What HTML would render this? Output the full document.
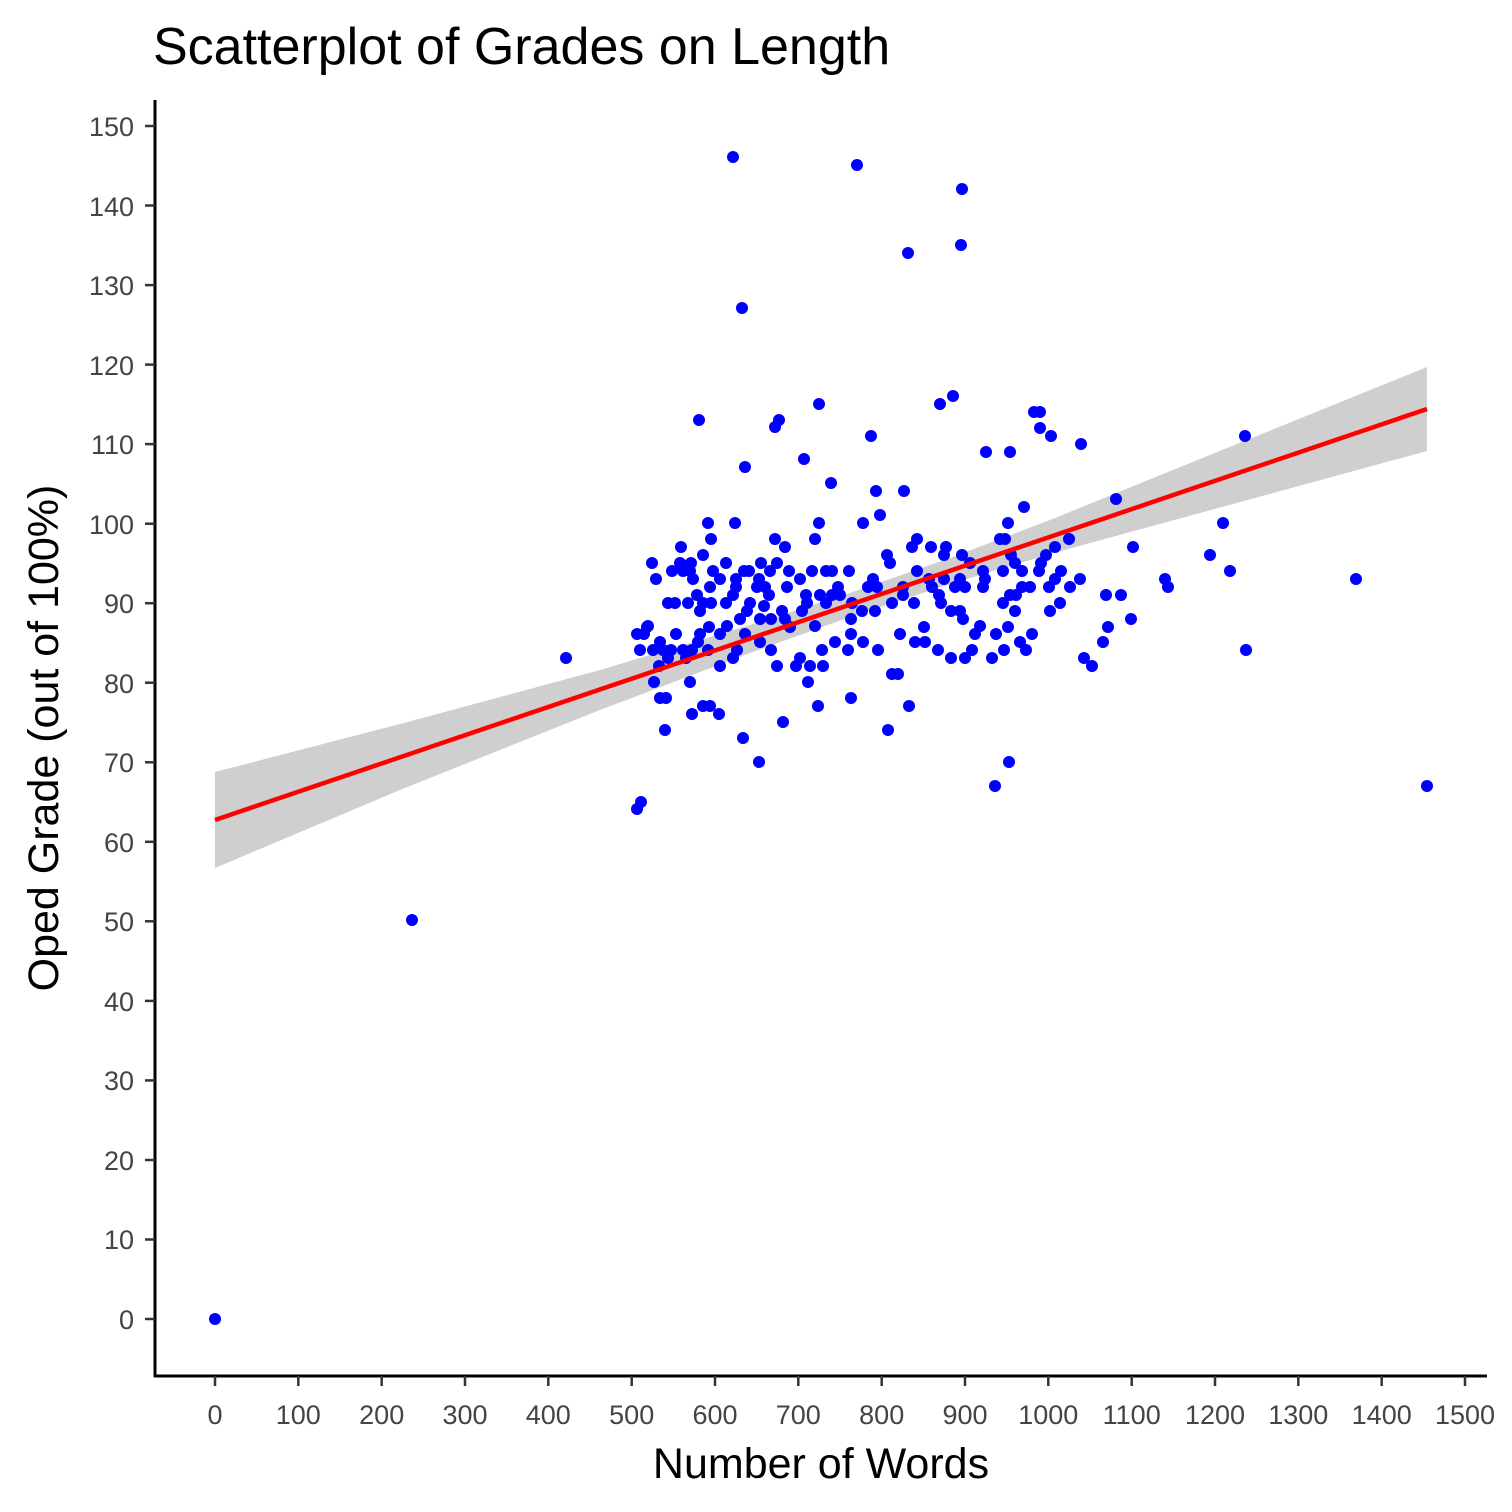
<!DOCTYPE html>
<html><head><meta charset="utf-8"><style>
html,body{margin:0;padding:0;background:#fff;}
svg{display:block;font-family:"Liberation Sans",sans-serif;}
</style></head><body>
<svg width="1512" height="1512" viewBox="0 0 1512 1512" xmlns="http://www.w3.org/2000/svg">
<rect width="1512" height="1512" fill="#fff"/>
<text x="153" y="64" font-size="52" fill="#000">Scatterplot of Grades on Length</text>
<polygon fill="#cfcfcf" points="215,772 400,724 600,670 750,625 850,593 950,558 1050,520 1200,459 1427,367 1427,451 1200,513 1050,554 950,584 850,617 750,653 600,710 400,790 215,868"/>
<g fill="#0000ff" stroke="none">
<circle cx="215" cy="1319" r="6"/><circle cx="412" cy="920" r="6"/><circle cx="566" cy="658" r="6"/><circle cx="637" cy="809" r="6"/><circle cx="641" cy="802" r="6"/><circle cx="733" cy="157" r="6"/><circle cx="857" cy="165" r="6"/><circle cx="962" cy="189" r="6"/><circle cx="961" cy="245" r="6"/><circle cx="908" cy="253" r="6"/><circle cx="742" cy="308" r="6"/><circle cx="699" cy="420" r="6"/><circle cx="779" cy="420" r="6"/><circle cx="775" cy="427" r="6"/><circle cx="745" cy="467" r="6"/><circle cx="819" cy="404" r="6"/><circle cx="940" cy="404" r="6"/><circle cx="953" cy="396" r="6"/><circle cx="871" cy="436" r="6"/><circle cx="804" cy="459" r="6"/><circle cx="831" cy="483" r="6"/><circle cx="876" cy="491" r="6"/><circle cx="904" cy="491" r="6"/><circle cx="1034" cy="412" r="6"/><circle cx="1040" cy="412" r="6"/><circle cx="1040" cy="428" r="6"/><circle cx="1051" cy="436" r="6"/><circle cx="1081" cy="444" r="6"/><circle cx="1010" cy="452" r="6"/><circle cx="1245" cy="436" r="6"/><circle cx="1116" cy="499" r="6"/><circle cx="1223" cy="523" r="6"/><circle cx="1133" cy="547" r="6"/><circle cx="1210" cy="555" r="6"/><circle cx="1230" cy="571" r="6"/><circle cx="1356" cy="579" r="6"/><circle cx="1165" cy="579" r="6"/><circle cx="1168" cy="587" r="6"/><circle cx="1106" cy="595" r="6"/><circle cx="1121" cy="595" r="6"/><circle cx="1131" cy="619" r="6"/><circle cx="1108" cy="627" r="6"/><circle cx="1092" cy="666" r="6"/><circle cx="1246" cy="650" r="6"/><circle cx="1427" cy="786" r="6"/><circle cx="995" cy="786" r="6"/><circle cx="1009" cy="762" r="6"/><circle cx="759" cy="762" r="6"/><circle cx="743" cy="738" r="6"/><circle cx="665" cy="730" r="6"/><circle cx="719" cy="714" r="6"/><circle cx="703" cy="706" r="6"/><circle cx="710" cy="706" r="6"/><circle cx="818" cy="706" r="6"/><circle cx="909" cy="706" r="6"/><circle cx="783" cy="722" r="6"/><circle cx="888" cy="730" r="6"/><circle cx="851" cy="698" r="6"/><circle cx="808" cy="682" r="6"/><circle cx="892" cy="674" r="6"/><circle cx="898" cy="674" r="6"/>
<circle cx="708" cy="523" r="6"/><circle cx="863" cy="523" r="6"/><circle cx="880" cy="515" r="6"/><circle cx="819" cy="523" r="6"/><circle cx="735" cy="523" r="6"/><circle cx="775" cy="539" r="6"/><circle cx="711" cy="539" r="6"/><circle cx="785" cy="547" r="6"/><circle cx="815" cy="539" r="6"/><circle cx="912" cy="547" r="6"/><circle cx="917" cy="539" r="6"/><circle cx="931" cy="547" r="6"/><circle cx="1000" cy="539" r="6"/><circle cx="1008" cy="523" r="6"/><circle cx="1005" cy="539" r="6"/><circle cx="1069" cy="539" r="6"/><circle cx="1024" cy="507" r="6"/><circle cx="986" cy="452" r="6"/><circle cx="946" cy="547" r="6"/>
<circle cx="680" cy="563" r="6"/><circle cx="703" cy="555" r="6"/><circle cx="744" cy="571" r="6"/><circle cx="777" cy="563" r="6"/><circle cx="832" cy="571" r="6"/><circle cx="887" cy="555" r="6"/><circle cx="890" cy="563" r="6"/><circle cx="944" cy="555" r="6"/><circle cx="962" cy="555" r="6"/><circle cx="970" cy="563" r="6"/><circle cx="983" cy="571" r="6"/><circle cx="1011" cy="555" r="6"/><circle cx="1015" cy="563" r="6"/><circle cx="1022" cy="571" r="6"/><circle cx="1046" cy="555" r="6"/><circle cx="1055" cy="547" r="6"/><circle cx="1061" cy="571" r="6"/><circle cx="690" cy="571" r="6"/><circle cx="693" cy="579" r="6"/><circle cx="720" cy="579" r="6"/><circle cx="736" cy="579" r="6"/><circle cx="749" cy="571" r="6"/><circle cx="759" cy="579" r="6"/><circle cx="761" cy="563" r="6"/><circle cx="770" cy="571" r="6"/><circle cx="789" cy="571" r="6"/><circle cx="800" cy="579" r="6"/><circle cx="812" cy="571" r="6"/><circle cx="826" cy="571" r="6"/><circle cx="849" cy="571" r="6"/><circle cx="873" cy="579" r="6"/><circle cx="917" cy="571" r="6"/><circle cx="929" cy="579" r="6"/><circle cx="944" cy="579" r="6"/><circle cx="960" cy="579" r="6"/><circle cx="985" cy="579" r="6"/><circle cx="1003" cy="571" r="6"/><circle cx="1039" cy="571" r="6"/><circle cx="1049" cy="587" r="6"/><circle cx="1055" cy="579" r="6"/><circle cx="1080" cy="579" r="6"/><circle cx="1070" cy="587" r="6"/><circle cx="1041" cy="563" r="6"/><circle cx="1030" cy="587" r="6"/><circle cx="1022" cy="587" r="6"/><circle cx="1010" cy="595" r="6"/><circle cx="1003" cy="603" r="6"/><circle cx="983" cy="587" r="6"/><circle cx="965" cy="587" r="6"/><circle cx="955" cy="587" r="6"/><circle cx="939" cy="595" r="6"/><circle cx="932" cy="587" r="6"/><circle cx="903" cy="587" r="6"/><circle cx="877" cy="587" r="6"/><circle cx="868" cy="587" r="6"/><circle cx="832" cy="595" r="6"/><circle cx="838" cy="587" r="6"/><circle cx="820" cy="595" r="6"/><circle cx="806" cy="595" r="6"/><circle cx="787" cy="587" r="6"/><circle cx="769" cy="595" r="6"/><circle cx="765" cy="587" r="6"/><circle cx="757" cy="587" r="6"/><circle cx="750" cy="603" r="6"/><circle cx="736" cy="587" r="6"/><circle cx="733" cy="595" r="6"/><circle cx="726" cy="603" r="6"/><circle cx="711" cy="603" r="6"/><circle cx="703" cy="603" r="6"/><circle cx="700" cy="611" r="6"/><circle cx="688" cy="603" r="6"/><circle cx="675" cy="603" r="6"/><circle cx="672" cy="571" r="6"/><circle cx="652" cy="563" r="6"/><circle cx="656" cy="579" r="6"/><circle cx="691" cy="563" r="6"/><circle cx="697" cy="595" r="6"/><circle cx="681" cy="547" r="6"/><circle cx="683" cy="571" r="6"/><circle cx="710" cy="587" r="6"/><circle cx="713" cy="571" r="6"/><circle cx="726" cy="563" r="6"/>
<circle cx="668" cy="603" r="6"/><circle cx="647" cy="627" r="6"/><circle cx="653" cy="650" r="6"/><circle cx="676" cy="634" r="6"/><circle cx="700" cy="634" r="6"/><circle cx="709" cy="627" r="6"/><circle cx="720" cy="634" r="6"/><circle cx="727" cy="626" r="6"/><circle cx="740" cy="619" r="6"/><circle cx="747" cy="611" r="6"/><circle cx="760" cy="619" r="6"/><circle cx="771" cy="619" r="6"/><circle cx="785" cy="619" r="6"/><circle cx="802" cy="611" r="6"/><circle cx="807" cy="603" r="6"/><circle cx="826" cy="603" r="6"/><circle cx="840" cy="595" r="6"/><circle cx="852" cy="603" r="6"/><circle cx="862" cy="611" r="6"/><circle cx="875" cy="611" r="6"/><circle cx="892" cy="603" r="6"/><circle cx="903" cy="595" r="6"/><circle cx="914" cy="603" r="6"/><circle cx="924" cy="627" r="6"/><circle cx="941" cy="603" r="6"/><circle cx="951" cy="611" r="6"/><circle cx="960" cy="611" r="6"/><circle cx="963" cy="619" r="6"/><circle cx="975" cy="634" r="6"/><circle cx="980" cy="626" r="6"/><circle cx="996" cy="634" r="6"/><circle cx="1008" cy="627" r="6"/><circle cx="1015" cy="611" r="6"/><circle cx="1026" cy="650" r="6"/><circle cx="1032" cy="634" r="6"/><circle cx="1050" cy="611" r="6"/><circle cx="1060" cy="603" r="6"/><circle cx="1084" cy="658" r="6"/><circle cx="1103" cy="642" r="6"/><circle cx="1020" cy="642" r="6"/><circle cx="1016" cy="595" r="6"/><circle cx="1004" cy="650" r="6"/><circle cx="992" cy="658" r="6"/><circle cx="972" cy="650" r="6"/><circle cx="965" cy="658" r="6"/><circle cx="951" cy="658" r="6"/><circle cx="938" cy="650" r="6"/><circle cx="925" cy="642" r="6"/><circle cx="915" cy="642" r="6"/><circle cx="900" cy="634" r="6"/><circle cx="878" cy="650" r="6"/><circle cx="863" cy="642" r="6"/><circle cx="851" cy="634" r="6"/><circle cx="835" cy="642" r="6"/><circle cx="822" cy="650" r="6"/><circle cx="800" cy="658" r="6"/><circle cx="796" cy="666" r="6"/><circle cx="777" cy="666" r="6"/><circle cx="771" cy="650" r="6"/><circle cx="760" cy="642" r="6"/><circle cx="745" cy="634" r="6"/><circle cx="737" cy="650" r="6"/><circle cx="733" cy="658" r="6"/><circle cx="720" cy="666" r="6"/><circle cx="708" cy="650" r="6"/><circle cx="698" cy="642" r="6"/><circle cx="692" cy="650" r="6"/><circle cx="686" cy="658" r="6"/><circle cx="671" cy="650" r="6"/><circle cx="660" cy="642" r="6"/><circle cx="644" cy="634" r="6"/>
<circle cx="637" cy="634" r="6"/><circle cx="640" cy="650" r="6"/><circle cx="648" cy="626" r="6"/><circle cx="654" cy="682" r="6"/><circle cx="660" cy="698" r="6"/><circle cx="690" cy="682" r="6"/><circle cx="666" cy="698" r="6"/><circle cx="692" cy="714" r="6"/><circle cx="668" cy="658" r="6"/><circle cx="663" cy="650" r="6"/><circle cx="659" cy="666" r="6"/><circle cx="683" cy="650" r="6"/><circle cx="810" cy="666" r="6"/><circle cx="823" cy="666" r="6"/><circle cx="848" cy="650" r="6"/><circle cx="764" cy="606" r="6"/><circle cx="782" cy="611" r="6"/><circle cx="790" cy="627" r="6"/><circle cx="815" cy="626" r="6"/><circle cx="851" cy="619" r="6"/>
</g>
<line x1="215" y1="820" x2="1427" y2="409" stroke="#ff0000" stroke-width="4.5"/>
<g stroke="#000" stroke-width="3" fill="none">
<line x1="155" y1="100" x2="155" y2="1377"/>
<line x1="154" y1="1376" x2="1487" y2="1376"/>
</g>
<g stroke="#333" stroke-width="2.5">
<line x1="145" y1="1319" x2="155" y2="1319"/><line x1="145" y1="1239.5" x2="155" y2="1239.5"/><line x1="145" y1="1160" x2="155" y2="1160"/><line x1="145" y1="1080.4" x2="155" y2="1080.4"/><line x1="145" y1="1000.9" x2="155" y2="1000.9"/><line x1="145" y1="921.3" x2="155" y2="921.3"/><line x1="145" y1="841.8" x2="155" y2="841.8"/><line x1="145" y1="762.3" x2="155" y2="762.3"/><line x1="145" y1="682.7" x2="155" y2="682.7"/><line x1="145" y1="603.2" x2="155" y2="603.2"/><line x1="145" y1="523.7" x2="155" y2="523.7"/><line x1="145" y1="444.1" x2="155" y2="444.1"/><line x1="145" y1="364.6" x2="155" y2="364.6"/><line x1="145" y1="285.1" x2="155" y2="285.1"/><line x1="145" y1="205.5" x2="155" y2="205.5"/><line x1="145" y1="126" x2="155" y2="126"/>
<line x1="215" y1="1376" x2="215" y2="1386"/><line x1="298.3" y1="1376" x2="298.3" y2="1386"/><line x1="381.7" y1="1376" x2="381.7" y2="1386"/><line x1="465" y1="1376" x2="465" y2="1386"/><line x1="548.3" y1="1376" x2="548.3" y2="1386"/><line x1="631.7" y1="1376" x2="631.7" y2="1386"/><line x1="715" y1="1376" x2="715" y2="1386"/><line x1="798.3" y1="1376" x2="798.3" y2="1386"/><line x1="881.7" y1="1376" x2="881.7" y2="1386"/><line x1="965" y1="1376" x2="965" y2="1386"/><line x1="1048.3" y1="1376" x2="1048.3" y2="1386"/><line x1="1131.7" y1="1376" x2="1131.7" y2="1386"/><line x1="1215" y1="1376" x2="1215" y2="1386"/><line x1="1298.3" y1="1376" x2="1298.3" y2="1386"/><line x1="1381.7" y1="1376" x2="1381.7" y2="1386"/><line x1="1465" y1="1376" x2="1465" y2="1386"/>
</g>
<g font-size="27" fill="#444" text-anchor="end">
<text x="134" y="1329">0</text><text x="134" y="1249">10</text><text x="134" y="1170">20</text><text x="134" y="1090">30</text><text x="134" y="1011">40</text><text x="134" y="931">50</text><text x="134" y="852">60</text><text x="134" y="772">70</text><text x="134" y="693">80</text><text x="134" y="613">90</text><text x="134" y="534">100</text><text x="134" y="454">110</text><text x="134" y="375">120</text><text x="134" y="295">130</text><text x="134" y="216">140</text><text x="134" y="136">150</text>
</g>
<g font-size="27" fill="#444" text-anchor="middle">
<text x="215" y="1424">0</text><text x="298.3" y="1424">100</text><text x="381.7" y="1424">200</text><text x="465" y="1424">300</text><text x="548.3" y="1424">400</text><text x="631.7" y="1424">500</text><text x="715" y="1424">600</text><text x="798.3" y="1424">700</text><text x="881.7" y="1424">800</text><text x="965" y="1424">900</text><text x="1048.3" y="1424">1000</text><text x="1131.7" y="1424">1100</text><text x="1215" y="1424">1200</text><text x="1298.3" y="1424">1300</text><text x="1381.7" y="1424">1400</text><text x="1465" y="1424">1500</text>
</g>
<text x="821" y="1478" font-size="43" fill="#000" text-anchor="middle">Number of Words</text>
<text transform="translate(58,738) rotate(-90)" font-size="43" fill="#000" text-anchor="middle">Oped Grade (out of 100%)</text>
</svg>
</body></html>
